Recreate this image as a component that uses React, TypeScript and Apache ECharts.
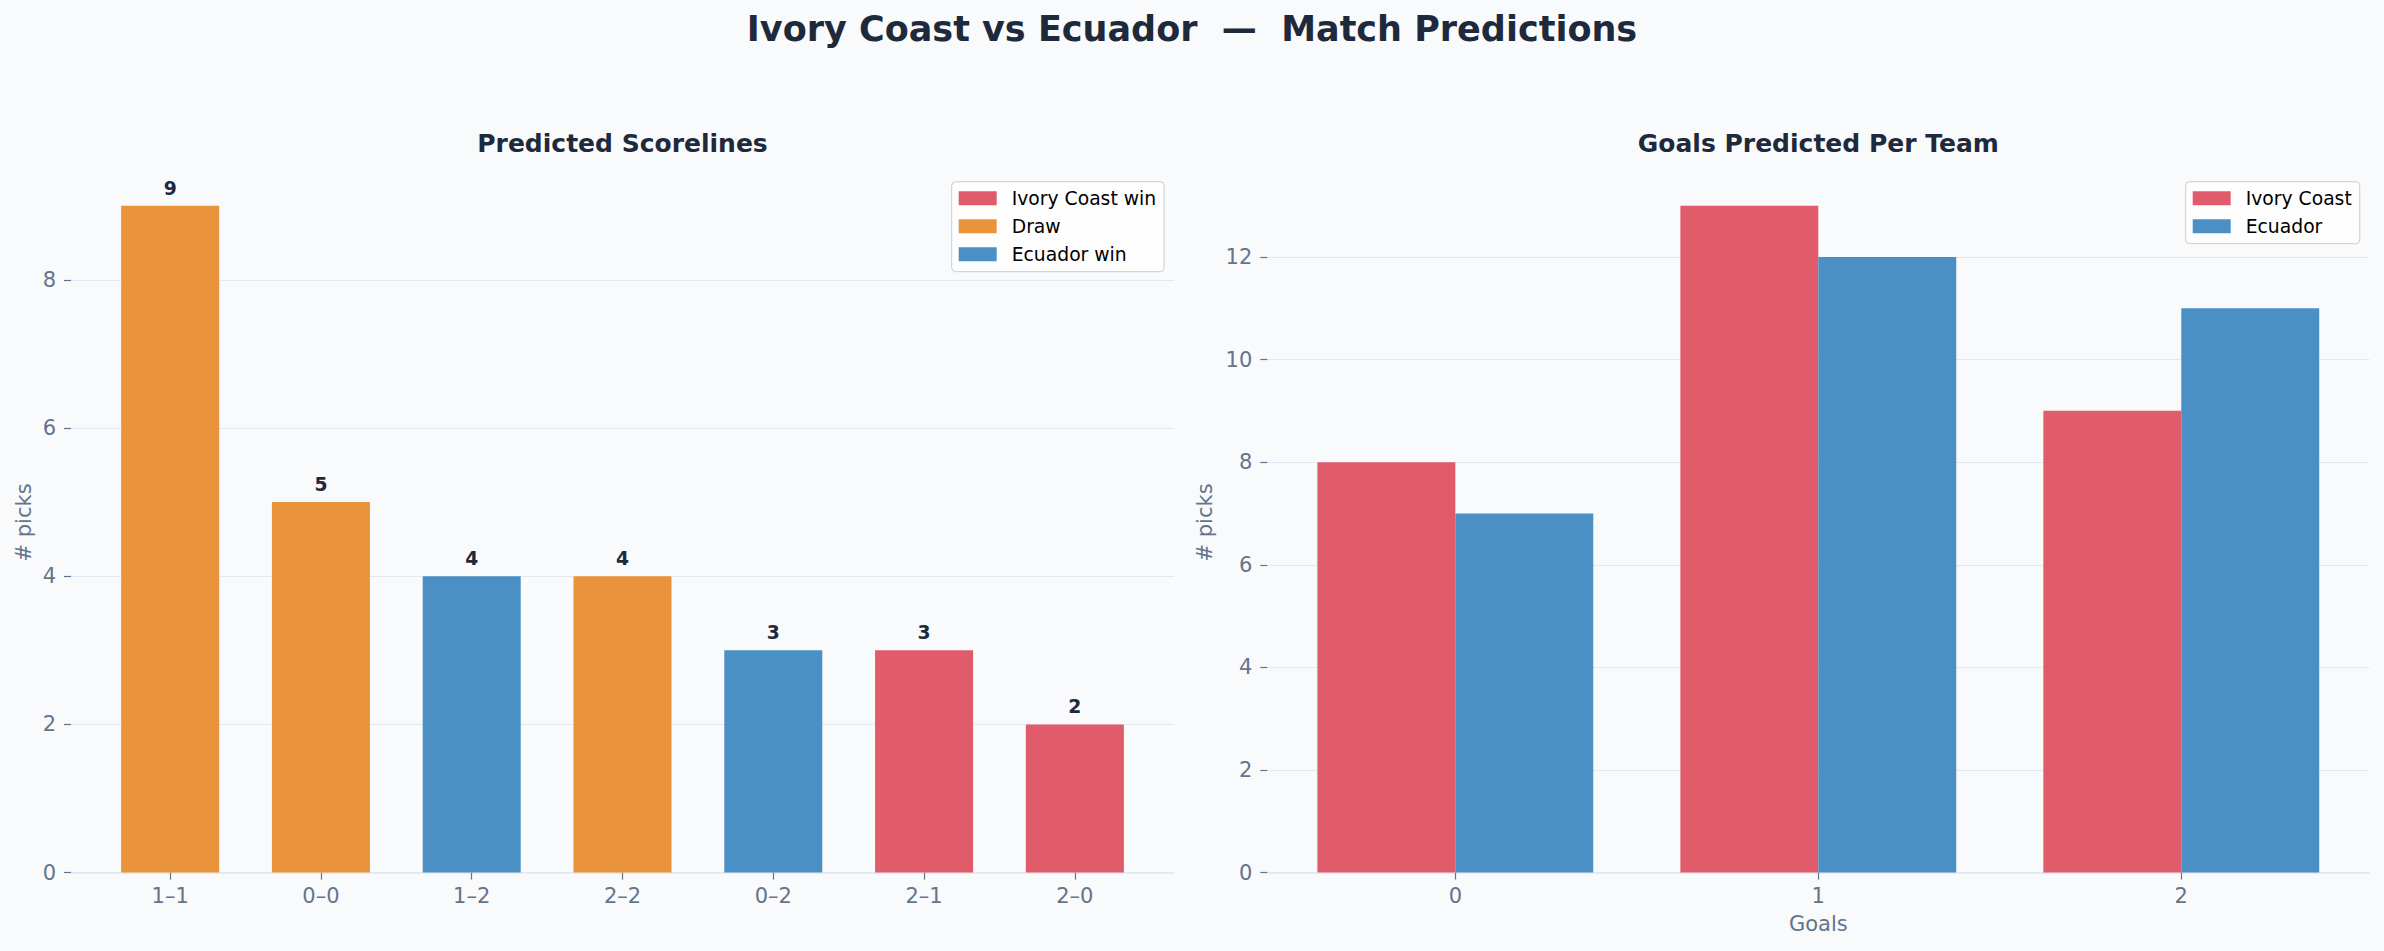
import React, { useEffect, useRef } from 'react';
import * as echarts from 'echarts';

// ---- data ----
const scorelines = ['1–1', '0–0', '1–2', '2–2', '0–2', '2–1', '2–0'];
const picks = [9, 5, 4, 4, 3, 3, 2];
const outcomes = ['Draw', 'Draw', 'Ecuador win', 'Draw', 'Ecuador win', 'Ivory Coast win', 'Ivory Coast win'];
const outcomeNames = ['Ivory Coast win', 'Draw', 'Ecuador win'];
const goalLabels = ['0', '1', '2'];
const teamNames = ['Ivory Coast', 'Ecuador'];
const ivoryGoals = [8, 13, 9];
const ecuadorGoals = [7, 12, 11];
const leftYTicks = [0, 2, 4, 6, 8];
const rightYTicks = [0, 2, 4, 6, 8, 10, 12];

// ---- style ----
const FONT = 'DejaVu Sans';
const BG = '#f8fafc';
const DARK = '#1e293b';
const SLATE = '#64748b';
const GRIDC = '#e2e8f0';
const RED = '#E05C6B';
const ORANGE = '#E9943B';
const BLUE = '#4A90C4';
const outcomeColors: Record<string, string> = {
  'Ivory Coast win': RED,
  Draw: ORANGE,
  'Ecuador win': BLUE,
};

const W = 2384;
const H = 951;
const gridTop = 172.3;
const gridBottom = 872.6;
const LG = { left: 71, width: 1103 };
const RG = { left: 1267.3, width: 1102 };

export default function App() {
  const ref = useRef<HTMLDivElement>(null);

  useEffect(() => {
    if (!ref.current) return;
    const chart = echarts.init(ref.current, undefined, { renderer: 'svg' });

    // matplotlib-like axis ranges
    const wL = 0.65;
    const nL = scorelines.length;
    const padL = (nL - 1 + wL) * 0.05;
    const xMinL = -wL / 2 - padL;
    const xMaxL = nL - 1 + wL / 2 + padL;
    const bwL = (wL * LG.width) / (xMaxL - xMinL);

    const wR = 0.38;
    const nR = goalLabels.length;
    const padR = (nR - 1 + 2 * wR) * 0.05;
    const xMinR = -wR - padR;
    const xMaxR = nR - 1 + wR + padR;
    const bwR = (wR * RG.width) / (xMaxR - xMinR);

    const yMaxL = Math.max(...picks) * 1.05;
    const yMaxR = Math.max(...ivoryGoals, ...ecuadorGoals) * 1.05;

    const gridH = gridBottom - gridTop;
    const axisLabelCommon = { fontFamily: FONT, fontSize: 21, color: SLATE };

    const mkY = (gridIndex: number, max: number, ticks: number[], nameGap: number) => ({
      type: 'value',
      gridIndex,
      min: 0,
      max,
      interval: 2,
      axisLine: { show: false, onZero: false },
      axisTick: { show: true, length: 7, lineStyle: { color: SLATE, width: 1.2 }, customValues: ticks },
      axisLabel: {
        ...axisLabelCommon,
        margin: 15,
        customValues: ticks,
        formatter: (v: number) => (ticks.indexOf(v) >= 0 ? String(v) : ''),
      },
      splitLine: {
        show: true,
        lineStyle: {
          color: [...ticks.map(() => GRIDC), 'rgba(0,0,0,0)'],
          width: 1.2,
        },
      },
      name: '# picks',
      nameLocation: 'middle',
      nameGap,
      nameTextStyle: { fontFamily: FONT, fontSize: 21, color: SLATE },
    });

    const mkX = (gridIndex: number, min: number, max: number, labels: string[], extra: any = {}) => {
      const idx = labels.map((_, i) => i);
      return {
        type: 'value',
        gridIndex,
        min,
        max,
        axisLine: { show: true, onZero: false, lineStyle: { color: GRIDC, width: 1.6 } },
        axisTick: { show: true, length: 7, lineStyle: { color: SLATE, width: 1.2 }, customValues: idx },
        axisLabel: {
          ...axisLabelCommon,
          margin: 13,
          customValues: idx,
          formatter: (v: number) => (Number.isInteger(v) && labels[v] !== undefined ? labels[v] : ''),
        },
        splitLine: { show: false },
        ...extra,
      };
    };

    const leftSeries = outcomeNames.map((name) => ({
      type: 'bar',
      name,
      xAxisIndex: 0,
      yAxisIndex: 0,
      barWidth: bwL,
      barGap: '-100%',
      itemStyle: { color: outcomeColors[name] },
      label: {
        show: true,
        position: 'top',
        distance: 8,
        fontFamily: FONT,
        fontSize: 18.75,
        fontWeight: 'bold',
        color: DARK,
        formatter: (p: any) => String(p.value[1]),
      },
      data: picks
        .map((v, i) => (outcomes[i] === name ? [i, v] : null))
        .filter((d) => d !== null),
    }));

    const rightSeries = [
      { name: teamNames[0], color: RED, vals: ivoryGoals },
      { name: teamNames[1], color: BLUE, vals: ecuadorGoals },
    ].map((s) => ({
      type: 'bar',
      name: s.name,
      xAxisIndex: 1,
      yAxisIndex: 1,
      barWidth: bwR,
      barGap: 0,
      itemStyle: { color: s.color },
      data: s.vals.map((v, i) => [i, v]),
    }));

    const legendCommon = {
      orient: 'vertical',
      icon: 'rect',
      itemWidth: 38,
      itemHeight: 14,
      itemGap: 9,
      padding: [7, 8, 8, 7],
      backgroundColor: 'rgba(255,255,255,0.8)',
      borderColor: '#cccccc',
      borderWidth: 1,
      borderRadius: 4,
      selectedMode: false,
      textStyle: { fontFamily: FONT, fontSize: 18.75, color: '#000000', padding: [0, 0, 0, 10] },
    };

    chart.setOption({
      animation: false,
      backgroundColor: BG,
      textStyle: { fontFamily: FONT },
      grid: [
        { left: LG.left, top: gridTop, width: LG.width, height: gridH, containLabel: false },
        { left: RG.left, top: gridTop, width: RG.width, height: gridH, containLabel: false },
      ],
      xAxis: [
        mkX(0, xMinL, xMaxL, scorelines),
        mkX(1, xMinR, xMaxR, goalLabels, {
          name: 'Goals',
          nameLocation: 'middle',
          nameGap: 41,
          nameTextStyle: { fontFamily: FONT, fontSize: 21, color: SLATE },
        }),
      ],
      yAxis: [mkY(0, yMaxL, leftYTicks, 37), mkY(1, yMaxR, rightYTicks, 52)],
      legend: [
        { ...legendCommon, data: outcomeNames, left: 951.7, top: 181.7 },
        { ...legendCommon, data: teamNames, left: 2185.7, top: 181.7 },
      ],
      graphic: [
        {
          type: 'text',
          x: W / 2,
          y: 29,
          style: {
            text: 'Ivory Coast vs Ecuador  —  Match Predictions',
            fontFamily: FONT,
            fontSize: 35,
            fontWeight: 'bold',
            fill: DARK,
            textAlign: 'center',
            textVerticalAlign: 'middle',
          },
        },
        {
          type: 'text',
          x: LG.left + LG.width / 2,
          y: 143,
          style: {
            text: 'Predicted Scorelines',
            fontFamily: FONT,
            fontSize: 25,
            fontWeight: 'bold',
            fill: DARK,
            textAlign: 'center',
            textVerticalAlign: 'middle',
          },
        },
        {
          type: 'text',
          x: RG.left + RG.width / 2,
          y: 143,
          style: {
            text: 'Goals Predicted Per Team',
            fontFamily: FONT,
            fontSize: 25,
            fontWeight: 'bold',
            fill: DARK,
            textAlign: 'center',
            textVerticalAlign: 'middle',
          },
        },
      ],
      series: [...leftSeries, ...rightSeries],
    });

    return () => chart.dispose();
  }, []);

  return (
    <div
      ref={ref}
      style={{ position: 'absolute', left: 0, top: 0, width: W, height: H, background: BG }}
    />
  );
}
